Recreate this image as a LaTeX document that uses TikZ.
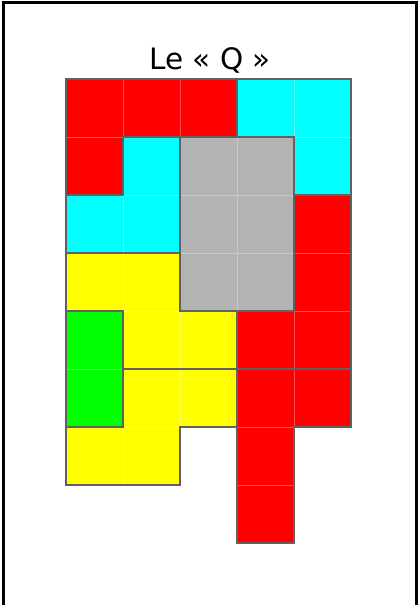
\documentclass[tikz,border=0pt]{standalone}
\usepackage{fontspec}
\setmainfont{DejaVu Sans}
\usepackage{xcolor}
\definecolor{pred}{HTML}{FF0000}
\definecolor{pcyan}{HTML}{00FFFF}
\definecolor{pgrey}{HTML}{B3B3B3}
\definecolor{pyellow}{HTML}{FFFF00}
\definecolor{pgreen}{HTML}{00FF00}

% fill the unit squares of one piece, with faint seams
\newcommand{\polycells}[2]{%
  \foreach \c/\r in {#2} {
    \fill[#1] (\c,\r) rectangle +(1,1);
    \draw[seam] (\c,\r) rectangle +(1,1);
  }%
}

\begin{document}
\begin{tikzpicture}[
    x=1pt, y=1pt,
    frame/.style={line width=3pt, black},
    seam/.style={draw=white, draw opacity=0.3, line width=0.9pt},
    edge/.style={draw=black!62, line width=1.3pt, line join=miter},
    title/.style={font=\fontsize{29.5}{34}\selectfont, anchor=base}
]
    \useasboundingbox (0,0) rectangle (420,605);
    \draw[frame] (3.2,0) -- (3.2,602.8) -- (416.8,602.8) -- (416.8,0);
    \node[title] (caption) at (210,535.5) {Le « Q »};

    \begin{scope}[shift={(66pt,526pt)}, x=57pt, y=-58pt]
        % pieces
        \polycells{pred}{0/0, 1/0, 2/0, 0/1}
        \polycells{pcyan}{3/0, 4/0, 4/1}
        \polycells{pcyan}{1/1, 0/2, 1/2}
        \polycells{pgrey}{2/1, 3/1, 2/2, 3/2, 2/3, 3/3}
        \polycells{pred}{4/2, 4/3, 3/4, 4/4}
        \polycells{pyellow}{0/3, 1/3, 1/4, 2/4}
        \polycells{pgreen}{0/4, 0/5}
        \polycells{pyellow}{1/5, 2/5, 0/6, 1/6}
        \polycells{pred}{3/5, 4/5, 3/6, 3/7}

        % outlines
        \draw[edge] (0,0) -- (3,0) -- (3,1) -- (1,1) -- (1,2) -- (0,2) -- cycle;
        \draw[edge] (3,0) -- (5,0) -- (5,2) -- (4,2) -- (4,1) -- (3,1) -- cycle;
        \draw[edge] (1,1) -- (2,1) -- (2,3) -- (0,3) -- (0,2) -- (1,2) -- cycle;
        \draw[edge] (2,1) rectangle (4,4);
        \draw[edge] (4,2) -- (5,2) -- (5,5) -- (3,5) -- (3,4) -- (4,4) -- cycle;
        \draw[edge] (0,3) -- (2,3) -- (2,4) -- (3,4) -- (3,5) -- (1,5) -- (1,4) -- (0,4) -- cycle;
        \draw[edge] (0,4) rectangle (1,6);
        \draw[edge] (1,5) -- (3,5) -- (3,6) -- (2,6) -- (2,7) -- (0,7) -- (0,6) -- (1,6) -- cycle;
        \draw[edge] (3,5) -- (5,5) -- (5,6) -- (4,6) -- (4,8) -- (3,8) -- cycle;
    \end{scope}
\end{tikzpicture}
\end{document}
